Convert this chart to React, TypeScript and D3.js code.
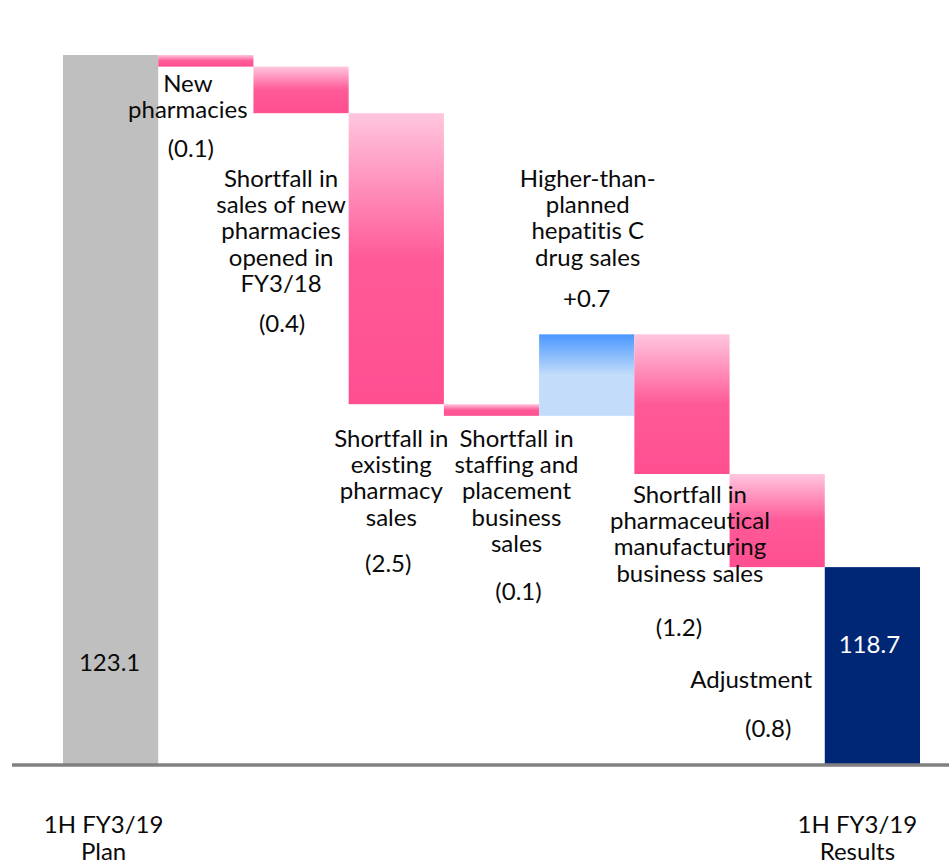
import React from "react";
import * as d3 from "d3";

// ---- data ----
const startLabel = ["1H FY3/19", "Plan"];
const endLabel = ["1H FY3/19", "Results"];
const planValue = 123.1;
const resultValue = 118.7;
const stepNames = [
  "New pharmacies",
  "Shortfall in sales of new pharmacies opened in FY3/18",
  "Shortfall in existing pharmacy sales",
  "Shortfall in staffing and placement business sales",
  "Higher-than-planned hepatitis C drug sales",
  "Shortfall in pharmaceutical manufacturing business sales",
  "Adjustment",
];
const stepValues = [-0.1, -0.4, -2.5, -0.1, 0.7, -1.2, -0.8];
const axisFloor = 117;

// ---- layout of annotations (pixels) ----
const stepLabelLines = [
  ["New", "pharmacies"],
  ["Shortfall in", "sales of new", "pharmacies", "opened in", "FY3/18"],
  ["Shortfall in", "existing", "pharmacy", "sales"],
  ["Shortfall in", "staffing and", "placement", "business", "sales"],
  ["Higher-than-", "planned", "hepatitis C", "drug sales"],
  ["Shortfall in", "pharmaceutical", "manufacturing", "business sales"],
  ["Adjustment"],
];
const stepLabelPos = [
  { dx: -18, y: 92, vdx: -15, vy: 157 },
  { dx: -20, y: 187, vdx: -19, vy: 332 },
  { dx: -5, y: 447, vdx: -8, vy: 572 },
  { dx: 25, y: 447, vdx: 27, vy: 600 },
  { dx: 1, y: 187, vdx: 0, vy: 307 },
  { dx: 8, y: 503, vdx: -3, vy: 636 },
  { dx: -26, y: 688, vdx: -9, vy: 737 },
];

const W = 949;
const H = 865;
const FONT = "Lato, Carlito, Calibri, sans-serif";
const FS = 24;
const LH = 26.2;
const TXT = "#0a0a0a";

export default function App() {
  const cats = ["start", ...stepNames, "end"];
  const x = d3.scaleBand<string>().domain(cats).range([63, 920]).padding(0);
  const y = d3.scaleLinear().domain([axisFloor, planValue]).range([765, 55]);

  let run = planValue;
  const steps = stepValues.map((v, i) => {
    const from = run;
    const to = run + v;
    run = to;
    return { name: stepNames[i], v, from, to, i };
  });

  const fmt = (v: number) =>
    v < 0 ? `(${d3.format(".1f")(-v)})` : `+${d3.format(".1f")(v)}`;

  return (
    <svg
      width={W}
      height={H}
      style={{
        position: "absolute",
        left: 0,
        top: 0,
        background: "#fff",
        fontVariantLigatures: "none",
        fontFeatureSettings: '"liga" 0, "clig" 0, "dlig" 0',
      }}
      fontFamily={FONT}
    >
      <defs>
        <linearGradient id="pinkG" x1="0" y1="0" x2="0" y2="1">
          <stop offset="0" stopColor="#FFC6DE" />
          <stop offset="0.5" stopColor="#FF5A98" />
          <stop offset="1" stopColor="#FF4F91" />
        </linearGradient>
        <linearGradient id="blueG" x1="0" y1="0" x2="0" y2="1">
          <stop offset="0" stopColor="#4A98FF" />
          <stop offset="0.5" stopColor="#C2DCFA" />
          <stop offset="1" stopColor="#C2DCFA" />
        </linearGradient>
      </defs>

      {/* start bar */}
      <rect
        x={x("start")}
        y={y(planValue)}
        width={x.bandwidth()}
        height={y(axisFloor) - y(planValue)}
        fill="#BFBFBF"
      />
      {/* end bar */}
      <rect
        x={x("end")}
        y={y(resultValue)}
        width={x.bandwidth()}
        height={y(axisFloor) - y(resultValue)}
        fill="#002776"
      />

      {steps.map((s) => (
        <rect
          key={s.name}
          x={x(s.name)}
          y={y(Math.max(s.from, s.to))}
          width={x.bandwidth()}
          height={Math.abs(y(s.from) - y(s.to))}
          fill={s.v < 0 ? "url(#pinkG)" : "url(#blueG)"}
        />
      ))}

      {/* axis line */}
      <line x1={12} x2={W} y1={y(axisFloor)} y2={y(axisFloor)} stroke="#808080" strokeWidth={3.5} />

      {/* step labels */}
      {steps.map((s) => {
        const cx = (x(s.name) as number) + x.bandwidth() / 2;
        const p = stepLabelPos[s.i];
        return (
          <g key={"l" + s.name} fontSize={FS} fill={TXT} textAnchor="middle">
            <text x={cx + p.dx} y={p.y}>
              {stepLabelLines[s.i].map((ln, k) => (
                <tspan key={k} x={cx + p.dx} y={p.y + k * LH}>
                  {ln}
                </tspan>
              ))}
            </text>
            <text x={cx + p.vdx} y={p.vy}>
              {fmt(s.v)}
            </text>
          </g>
        );
      })}

      {/* totals */}
      <text
        x={(x("start") as number) + x.bandwidth() / 2 - 1}
        y={671}
        textAnchor="middle"
        fontSize={FS}
        fill={TXT}
      >
        {d3.format(".1f")(planValue)}
      </text>
      <text
        x={(x("end") as number) + x.bandwidth() / 2 - 3}
        y={653}
        textAnchor="middle"
        fontSize={FS}
        fill="#fff"
      >
        {d3.format(".1f")(resultValue)}
      </text>

      {/* category labels */}
      {[
        { lines: startLabel, cx: (x("start") as number) + x.bandwidth() / 2 - 7 },
        { lines: endLabel, cx: (x("end") as number) + x.bandwidth() / 2 - 15 },
      ].map((c, i) => (
        <text key={i} textAnchor="middle" fontSize={FS} fill={TXT}>
          {c.lines.map((ln, k) => (
            <tspan key={k} x={c.cx} y={833 + k * 27}>
              {ln}
            </tspan>
          ))}
        </text>
      ))}
    </svg>
  );
}
